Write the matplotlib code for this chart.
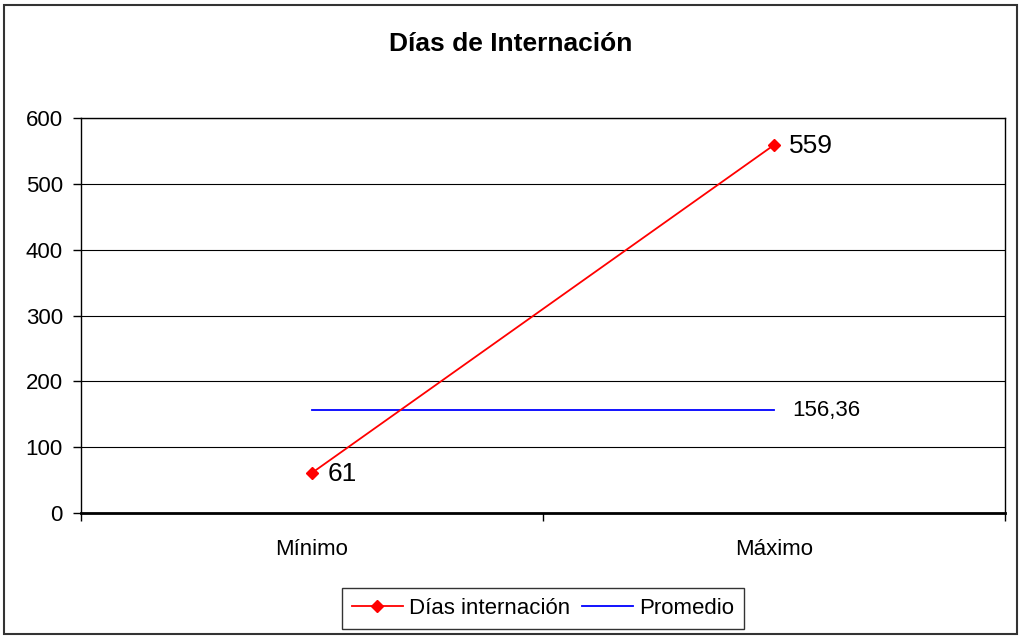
import matplotlib.pyplot as plt
from matplotlib.patches import Rectangle

plt.rcParams['font.family'] = ['Liberation Sans', 'DejaVu Sans']

categorias = ['Mínimo', 'Máximo']
dias = [61, 559]
promedio = 156.36
promedio_txt = '156,36'
yticks = [0, 100, 200, 300, 400, 500, 600]

fig = plt.figure(figsize=(10.21, 6.37), dpi=100)
ax = fig.add_axes([81/1021, 1 - 513/637, 924/1021, 395/637])

x = list(range(len(categorias)))
ax.plot(x, dias, color='#ff0000', lw=1.3, marker='D', ms=6, label='Días internación', zorder=4)
ax.plot(x, [promedio]*len(x), color='#0000ff', lw=1.3, label='Promedio', zorder=3)

# etiquetas de datos
for xi, v in zip(x, dias):
    ax.annotate(str(v), (xi, v), xytext=(11, -1), textcoords='offset points',
                va='center', ha='left', fontsize=19)
ax.annotate(promedio_txt, (x[-1], promedio), xytext=(13, 0), textcoords='offset points',
            va='center', ha='left', fontsize=16)

ax.set_xlim(-0.5, len(categorias) - 0.5)
ax.set_ylim(0, 600)
ax.set_yticks(yticks)
ax.set_yticklabels([str(t) for t in yticks], fontsize=16)
ax.yaxis.grid(True, color='#000000', lw=0.8)
ax.set_axisbelow(True)

# ticks de categoria entre categorias, etiquetas centradas
ax.set_xticks([i - 0.5 for i in range(len(categorias) + 1)])
ax.set_xticklabels([])
ax.set_xticks(x, minor=True)
ax.set_xticklabels(categorias, minor=True, fontsize=16)
ax.tick_params(axis='x', which='major', direction='out', length=6, width=1)
ax.tick_params(axis='x', which='minor', length=0, pad=19)
ax.tick_params(axis='y', direction='out', length=6, width=1, pad=7)

for s in ['top', 'right', 'left']:
    ax.spines[s].set_color('#000000')
    ax.spines[s].set_linewidth(1)
ax.spines['bottom'].set_linewidth(2)

fig.text(0.5, 1 - 44/637, 'Días de Internación', ha='center', va='center',
         fontsize=19, fontweight='bold')

leg = fig.legend(loc='center', bbox_to_anchor=(543/1021, 1 - 608.5/637), ncol=2,
                 fontsize=16, frameon=True, fancybox=False, edgecolor='#000000',
                 handlelength=2.3, columnspacing=0.5, handletextpad=0.3,
                 borderpad=0.45, borderaxespad=0)
leg.get_frame().set_linewidth(1)

fig.patches.append(Rectangle((4/1021, 3/637), 1013/1021, 629/637, transform=fig.transFigure,
                             fill=False, edgecolor='#333333', lw=1.5))

fig.savefig('out.png', dpi=100)
